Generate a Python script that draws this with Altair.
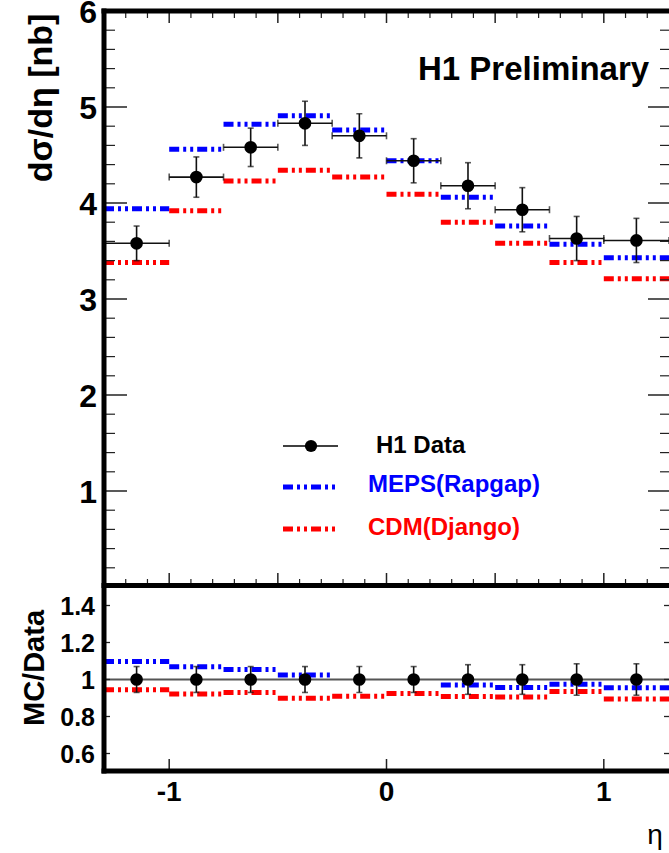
import altair as alt
import pandas as pd

# ---------------- data ----------------
bin_lo = [-1.3, -1.0, -0.75, -0.5, -0.25, 0.0, 0.25, 0.5, 0.75, 1.0]
bin_hi = [-1.0, -0.75, -0.5, -0.25, 0.0, 0.25, 0.5, 0.75, 1.0, 1.3]
eta_c = [-1.15, -0.875, -0.625, -0.375, -0.125, 0.125, 0.375, 0.625, 0.875, 1.15]
h1_data = [3.58, 4.27, 4.58, 4.83, 4.70, 4.44, 4.18, 3.93, 3.63, 3.61]
h1_err = [0.18, 0.21, 0.20, 0.23, 0.23, 0.23, 0.24, 0.23, 0.23, 0.23]
meps = [3.94, 4.56, 4.82, 4.91, 4.76, 4.44, 4.06, 3.76, 3.57, 3.43]
cdm = [3.38, 3.92, 4.23, 4.34, 4.27, 4.09, 3.80, 3.58, 3.38, 3.21]
ratio_data = [1.0] * 10
ratio_err = [0.07, 0.07, 0.07, 0.07, 0.07, 0.07, 0.08, 0.08, 0.085, 0.085]
meps_ratio = [1.097, 1.069, 1.054, 1.024, None, None, 0.970, 0.957, 0.975, 0.955]
cdm_ratio = [0.944, 0.921, 0.930, 0.899, 0.910, 0.924, 0.908, 0.906, 0.935, 0.894]

up_tick_labels = [1, 2, 3, 4, 5, 6]
lo_tick_values = [0.6, 0.8, 1.0, 1.2, 1.4]
lo_tick_labels = ["0.6", "0.8", "1", "1.2", "1.4"]
x_tick_values = [-1, 0, 1]
x_tick_labels = ["-1", "0", "1"]
x_major = [-1.0, -0.5, 0.0, 0.5, 1.0]
x_minor = [v / 10 for v in range(-12, 13) if v % 5 != 0]
up_major = [1, 2, 3, 4, 5]
up_minor = [v / 5 for v in range(1, 30) if v % 5 != 0]
legend_labels = ["H1 Data", "MEPS(Rapgap)", "CDM(Django)"]

# ---------------- layout ----------------
W, H = 565, 760
FONT = "Liberation Sans"
BLUE, RED = "#0000ff", "#ff0000"
DASH = [10, 4, 3, 4, 3, 4]

xs = alt.Scale(domain=[-1.3, 1.3], nice=False)
ys_up = alt.Scale(domain=[0, 6], range=[576, 0], nice=False, zero=False)
ys_lo = alt.Scale(domain=[0.5, 1.5], range=[761, 576], nice=False, zero=False)


def X(f):
    return alt.X(f, type="quantitative", scale=xs, axis=None)


def YU(f):
    return alt.Y(f, type="quantitative", scale=ys_up, axis=None)


def YL(f):
    return alt.Y(f, type="quantitative", scale=ys_lo, axis=None)


df = pd.DataFrame({
    "lo": bin_lo, "hi": bin_hi, "c": eta_c,
    "h1": h1_data, "err": h1_err, "meps": meps, "cdm": cdm,
    "r": ratio_data, "rerr": ratio_err, "mr": meps_ratio, "cr": cdm_ratio,
})
df["elo"] = df["h1"] - df["err"]
df["ehi"] = df["h1"] + df["err"]
df["rlo"] = df["r"] - df["rerr"]
df["rhi"] = df["r"] + df["rerr"]

base = alt.Chart(df)
layers = []

# ----- upper panel MC steps -----
layers.append(base.mark_rule(color=BLUE, strokeWidth=5, strokeDash=DASH).encode(
    x=X("lo"), x2="hi", y=YU("meps")))
layers.append(base.mark_rule(color=RED, strokeWidth=5, strokeDash=DASH).encode(
    x=X("lo"), x2="hi", y=YU("cdm")))

# ----- upper panel data -----
EC = "#111111"
layers.append(base.mark_rule(color=EC, strokeWidth=1.6).encode(x=X("c"), y=YU("elo"), y2="ehi"))
layers.append(base.mark_rule(color=EC, strokeWidth=1.6).encode(x=X("lo"), x2="hi", y=YU("h1")))
layers.append(base.mark_tick(orient="horizontal", size=6, thickness=1.6, color=EC).encode(x=X("c"), y=YU("elo")))
layers.append(base.mark_tick(orient="horizontal", size=6, thickness=1.6, color=EC).encode(x=X("c"), y=YU("ehi")))
layers.append(base.mark_tick(orient="vertical", size=7, thickness=1.6, color=EC).encode(x=X("lo"), y=YU("h1")))
layers.append(base.mark_tick(orient="vertical", size=7, thickness=1.6, color=EC).encode(x=X("hi"), y=YU("h1")))
layers.append(base.mark_circle(size=160, color="black", opacity=1).encode(x=X("c"), y=YU("h1")))

# ----- lower panel -----
layers.append(base.mark_rule(color=BLUE, strokeWidth=5, strokeDash=DASH).encode(
    x=X("lo"), x2="hi", y=YL("mr")))
layers.append(base.mark_rule(color=RED, strokeWidth=5, strokeDash=DASH).encode(
    x=X("lo"), x2="hi", y=YL("cr")))
layers.append(alt.Chart(pd.DataFrame({"ref": [1.0]})).mark_rule(color="#555555", strokeWidth=2).encode(
    y=YL("ref"), x=alt.value(0), x2=alt.value(W)))
layers.append(base.mark_rule(color=EC, strokeWidth=1.6).encode(x=X("c"), y=YL("rlo"), y2="rhi"))
layers.append(base.mark_tick(orient="horizontal", size=6, thickness=1.6, color=EC).encode(x=X("c"), y=YL("rlo")))
layers.append(base.mark_tick(orient="horizontal", size=6, thickness=1.6, color=EC).encode(x=X("c"), y=YL("rhi")))
layers.append(base.mark_circle(size=160, color="black", opacity=1).encode(x=X("c"), y=YL("r")))

# ----- ticks (inward) -----
TC = "#222222"
d_upmaj = alt.Chart(pd.DataFrame({"v": up_major}))
d_upmin = alt.Chart(pd.DataFrame({"v": up_minor}))
layers.append(d_upmaj.mark_rule(color=TC, strokeWidth=1.5).encode(y=YU("v"), x=alt.value(0), x2=alt.value(23)))
layers.append(d_upmin.mark_rule(color=TC, strokeWidth=1.2).encode(y=YU("v"), x=alt.value(0), x2=alt.value(11)))
layers.append(d_upmaj.mark_rule(color=TC, strokeWidth=1.5).encode(y=YU("v"), x=alt.value(W - 21), x2=alt.value(W)))
layers.append(d_upmin.mark_rule(color=TC, strokeWidth=1.2).encode(y=YU("v"), x=alt.value(W - 9), x2=alt.value(W)))

d_xmaj = alt.Chart(pd.DataFrame({"v": x_major}))
d_xmin = alt.Chart(pd.DataFrame({"v": x_minor}))
layers.append(d_xmaj.mark_rule(color=TC, strokeWidth=1.5).encode(x=X("v"), y=alt.value(0), y2=alt.value(12)))
layers.append(d_xmin.mark_rule(color=TC, strokeWidth=1.2).encode(x=X("v"), y=alt.value(0), y2=alt.value(7)))
layers.append(d_xmaj.mark_rule(color=TC, strokeWidth=1.5).encode(x=X("v"), y=alt.value(562), y2=alt.value(575)))
layers.append(d_xmin.mark_rule(color=TC, strokeWidth=1.2).encode(x=X("v"), y=alt.value(568), y2=alt.value(575)))

d_lotick = alt.Chart(pd.DataFrame({"v": lo_tick_values, "lab": lo_tick_labels}))
layers.append(d_lotick.mark_rule(color=TC, strokeWidth=1.3).encode(y=YL("v"), x=alt.value(0), x2=alt.value(6)))
layers.append(d_lotick.mark_rule(color=TC, strokeWidth=1.3).encode(y=YL("v"), x=alt.value(W - 5), x2=alt.value(W)))
d_xlab = alt.Chart(pd.DataFrame({"v": x_tick_values, "lab": x_tick_labels}))
layers.append(d_xlab.mark_rule(color=TC, strokeWidth=1.5).encode(x=X("v"), y=alt.value(748), y2=alt.value(760)))

# ----- frame -----
FR = "black"
layers.append(alt.Chart(pd.DataFrame({"a": [0]})).mark_rule(color=FR, strokeWidth=5).encode(
    x=alt.value(0), y=alt.value(-2.5), y2=alt.value(762.5)))
for yy in (0, 574.5, 760):
    layers.append(alt.Chart(pd.DataFrame({"a": [0]})).mark_rule(color=FR, strokeWidth=5).encode(
        y=alt.value(yy), x=alt.value(-2.5), x2=alt.value(W)))

# ----- tick labels -----
layers.append(alt.Chart(pd.DataFrame({"v": up_tick_labels})).mark_text(
    align="right", baseline="middle", dx=-7, dy=2, font=FONT, fontSize=32, fontWeight="bold", color="black"
).encode(x=alt.value(0), y=YU("v"), text="v:N"))
layers.append(d_lotick.mark_text(
    align="right", baseline="middle", dx=-9, dy=1, font=FONT, fontSize=25, fontWeight="bold", color="black"
).encode(x=alt.value(0), y=YL("v"), text="lab:N"))
layers.append(d_xlab.mark_text(
    align="center", baseline="middle", font=FONT, fontSize=28, fontWeight="bold", color="black"
).encode(x=X("v"), y=alt.value(782), text="lab:N"))

# ----- titles -----
def txt(s, x, y, size, color="black", weight="bold", angle=0, align="center", baseline="middle"):
    kw = dict(align=align, baseline=baseline, font=FONT, fontSize=size, fontWeight=weight, color=color)
    if angle:
        kw["angle"] = angle
    return alt.Chart(pd.DataFrame({"t": [s]})).mark_text(**kw).encode(
        x=alt.value(x), y=alt.value(y), text="t:N")

layers.append(txt("dσ/dη [nb]", -62, 87, 34, angle=270))
layers.append(txt("MC/Data", -69, 657, 29, angle=270))
layers.append(txt("η", 551, 825, 28, weight="normal"))
layers.append(txt("H1 Preliminary", 314, 69, 33, align="left", baseline="alphabetic"))

# ----- legend -----
layers.append(alt.Chart(pd.DataFrame({"a": [0]})).mark_rule(color="black", strokeWidth=1.6).encode(
    x=alt.value(179), x2=alt.value(234), y=alt.value(435)))
layers.append(alt.Chart(pd.DataFrame({"a": [0]})).mark_circle(size=150, color="black", opacity=1).encode(
    x=alt.value(207), y=alt.value(435)))
layers.append(alt.Chart(pd.DataFrame({"a": [0]})).mark_rule(color=BLUE, strokeWidth=5, strokeDash=DASH).encode(
    x=alt.value(179), x2=alt.value(234), y=alt.value(476)))
layers.append(alt.Chart(pd.DataFrame({"a": [0]})).mark_rule(color=RED, strokeWidth=5, strokeDash=DASH).encode(
    x=alt.value(179), x2=alt.value(234), y=alt.value(518)))
layers.append(txt(legend_labels[0], 272, 435, 24, align="left"))
layers.append(txt(legend_labels[1], 264, 474, 24, color=BLUE, align="left"))
layers.append(txt(legend_labels[2], 264, 517, 24, color=RED, align="left"))

chart = alt.layer(*layers).resolve_scale(y="independent").properties(
    width=W, height=H,
    autosize=alt.AutoSizeParams(type="none"),
    padding={"left": 104, "top": 11, "right": 0, "bottom": 82},
    background="white",
).configure_view(stroke=None)

chart.save("out.html", embed_options={"renderer": "svg", "actions": False})
